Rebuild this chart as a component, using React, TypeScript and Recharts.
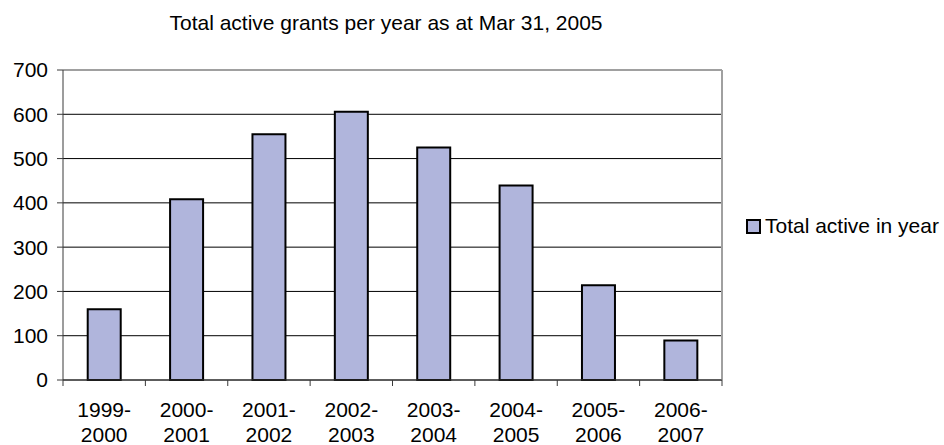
import React from "react";
import {
  BarChart,
  Bar,
  XAxis,
  YAxis,
  CartesianGrid,
  ReferenceLine,
} from "recharts";

// fiscal years, split into two label lines
const yearStarts = ["1999-", "2000-", "2001-", "2002-", "2003-", "2004-", "2005-", "2006-"];
const yearEnds = ["2000", "2001", "2002", "2003", "2004", "2005", "2006", "2007"];
const activeGrants = [160, 408, 555, 606, 525, 439, 214, 89];
const valueTicks = [0, 100, 200, 300, 400, 500, 600, 700];
const seriesName = "Total active in year";

const FONT = '"Liberation Sans", Arial, sans-serif';
const BAR_FILL = "#b0b5dc";
const AXIS = "#3a3a3a";
const BORDER = "#a0a0a0";

const data = yearStarts.map((start, i) => ({
  year: start + yearEnds[i],
  total: activeGrants[i],
}));

// two-line year label plus tick marks on the category boundaries
const YearTick = (props: any) => {
  const { x, y, payload } = props;
  const i = payload.index;
  const half = payload.offset || 0;
  const last = i === yearStarts.length - 1;
  return (
    <g>
      <line x1={x - half} x2={x - half} y1={y - 6} y2={y} stroke={AXIS} />
      {last && <line x1={x + half} x2={x + half} y1={y - 6} y2={y} stroke={AXIS} />}
      <text x={x} y={y} textAnchor="middle" fontFamily={FONT} fontSize={21} fill="#000">
        <tspan x={x} dy={31}>{yearStarts[i]}</tspan>
        <tspan x={x} dy={25}>{yearEnds[i]}</tspan>
      </text>
    </g>
  );
};

export default function App() {
  return (
    <div style={{ position: "absolute", left: 0, top: 0, width: 944, height: 445, background: "#fff" }}>
      <svg width={944} height={45} style={{ position: "absolute", left: 0, top: 0 }}>
        <text x={386} y={30} textAnchor="middle" fontFamily={FONT} fontSize={21} fill="#000">
          Total active grants per year as at Mar 31, 2005
        </text>
      </svg>
      <BarChart
        width={944}
        height={445}
        data={data}
        margin={{ top: 70, right: 222, bottom: 0, left: 0 }}
        barCategoryGap="30%"
        style={{ position: "absolute", left: 0, top: 0 }}
      >
        <CartesianGrid horizontal vertical={false} stroke="#000" strokeWidth={1} />
        <XAxis
          dataKey="year"
          height={65}
          axisLine={{ stroke: AXIS }}
          tickLine={false}
          tickSize={6}
          tickMargin={0}
          interval={0}
          tick={<YearTick />}
        />
        <YAxis
          width={63}
          domain={[0, 700]}
          ticks={valueTicks}
          interval={0}
          tickSize={6}
          tickMargin={9}
          axisLine={{ stroke: AXIS }}
          tickLine={{ stroke: AXIS }}
          tick={{ fontFamily: FONT, fontSize: 21, fill: "#000" }}
        />
        <ReferenceLine y={700} stroke={BORDER} strokeWidth={2} />
        <ReferenceLine x="2006-2007" position="end" stroke={BORDER} strokeWidth={2} />
        <Bar
          dataKey="total"
          name={seriesName}
          fill={BAR_FILL}
          stroke="#000"
          strokeWidth={2}
          isAnimationActive={false}
        />
      </BarChart>
      <div
        style={{
          position: "absolute",
          left: 746,
          top: 214,
          display: "flex",
          alignItems: "center",
          fontFamily: FONT,
          fontSize: 21,
          color: "#000",
          whiteSpace: "nowrap",
        }}
      >
        <span
          style={{
            display: "inline-block",
            width: 11,
            height: 11,
            background: BAR_FILL,
            border: "2px solid #000",
            marginRight: 4,
          }}
        />
        {seriesName}
      </div>
    </div>
  );
}
